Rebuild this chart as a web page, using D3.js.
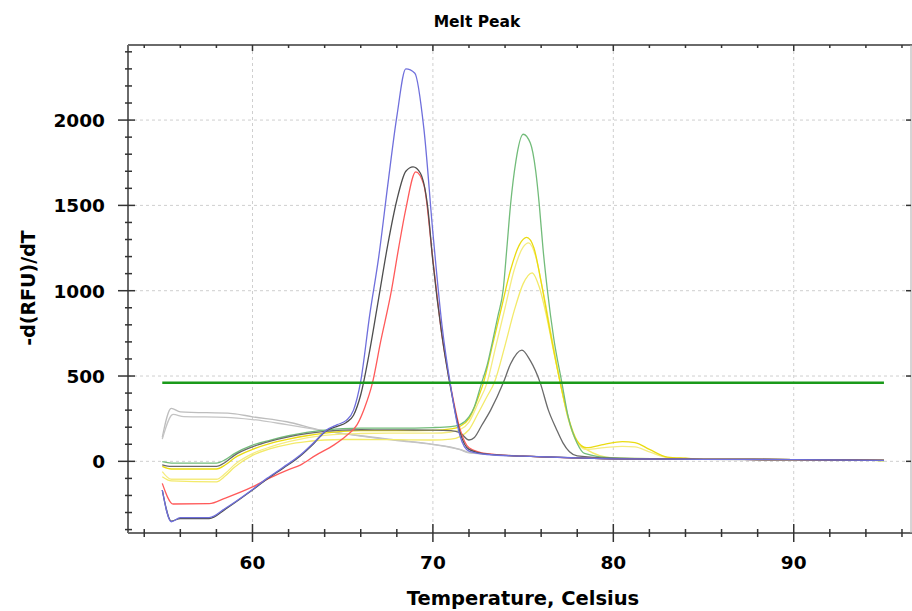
<!DOCTYPE html>
<html>
<head>
<meta charset="utf-8">
<script src="https://cdn.jsdelivr.net/npm/d3@7"></script>
<style>
  html, body { margin: 0; padding: 0; background: #fff; }
  svg text { font-family: "DejaVu Sans", sans-serif; font-weight: bold; fill: #000; }
</style>
</head>
<body>
<div id="chart"></div>
<script>
// Melt peak curves: [temperature (C), -d(RFU)/dT]
const blueCurve = [[55,-168],[55.5,-354],[56,-330],[57.6,-330],[58.5,-275],[60,-165],[60.8,-100],[61.7,-35],[62.65,37],[63.4,110],[64.1,183],[64.7,215],[65.2,240],[65.6,300],[66,470],[66.5,860],[67,1200],[67.5,1620],[68,2020],[68.5,2300],[69,2275],[69.5,1950],[70,1340],[70.5,800],[71,430],[71.5,150],[72,60],[73,40],[75,30],[78,20],[80,15],[85,12],[90,10],[95,6]];
const blackCurve = [[55,-168],[55.5,-350],[56,-335],[57.6,-335],[58.5,-280],[60,-168],[60.8,-105],[61.7,-40],[62.65,32],[63.4,105],[64.1,180],[64.7,205],[65.2,228],[65.6,270],[66,390],[66.5,650],[67,960],[67.5,1270],[68,1530],[68.5,1700],[68.9,1726],[69.3,1690],[69.7,1500],[70,1170],[70.5,740],[71,420],[71.5,170],[72,70],[73,42],[75,30],[78,20],[80,15],[85,12],[90,10],[95,6]];
const redCurve = [[55,-129],[55.6,-250],[57.6,-248],[58.5,-215],[60,-150],[61,-95],[62,-48],[62.65,-22],[63.5,35],[64.5,95],[65.2,150],[65.8,215],[66.2,310],[66.65,460],[67.1,700],[67.7,1000],[68.1,1250],[68.5,1480],[69.05,1697],[69.5,1620],[70,1180],[70.5,740],[71,430],[71.5,190],[72,80],[73,45],[75,30],[78,20],[80,15],[85,12],[90,10],[95,6]];
const greenCurve = [[55,-2],[55.5,-10],[58,-10],[58.5,10],[59,45],[60,95],[61,125],[62,150],[63,170],[64,183],[65,192],[66,195],[68,195],[70,198],[71,203],[71.5,215],[72,260],[72.3,320],[72.7,460],[73,560],[73.3,700],[73.6,850],[73.9,1010],[74.1,1250],[74.3,1500],[74.6,1760],[75,1917],[75.4,1865],[75.7,1700],[75.9,1500],[76.1,1250],[76.35,1000],[76.7,720],[77.15,460],[77.5,260],[78,105],[78.4,47],[80,20],[85,12],[90,10],[95,5]];
const yellowCurve1 = [[55,-30],[55.5,-45],[58,-45],[58.5,-20],[59,20],[60,70],[61,105],[62,130],[63,150],[64,165],[65,175],[66,180],[68,180],[70,182],[71,190],[71.5,205],[72,250],[72.5,370],[72.8,460],[73.3,680],[73.8,900],[74.3,1120],[74.8,1270],[75.2,1312],[75.6,1250],[76,1050],[76.5,760],[77.06,460],[77.5,260],[78,120],[78.5,80],[79.5,100],[80.5,115],[81.2,110],[82,70],[83,25],[84,18],[85,12],[90,10],[95,5]];
const yellowCurve2 = [[55,-60],[55.5,-105],[58,-105],[58.5,-70],[59,-20],[60,45],[61,85],[62,115],[63,138],[64,152],[65,160],[66,163],[68,165],[70,165],[71,172],[71.5,185],[72,230],[72.5,340],[73,460],[73.5,680],[74,900],[74.5,1120],[75,1255],[75.3,1280],[75.7,1200],[76.1,1000],[76.6,720],[77.06,460],[77.5,250],[78,110],[78.5,70],[79.5,80],[80.5,88],[81.2,85],[82,55],[83,22],[84,18],[85,12],[90,10],[95,5]];
const yellowCurve3 = [[55,-90],[55.5,-115],[58,-120],[58.5,-85],[59,-35],[60,35],[61,75],[62,100],[63,115],[64,125],[65,128],[66,128],[68,127],[70,125],[71,130],[71.5,145],[72,185],[72.5,280],[73,380],[73.4,460],[74,680],[74.5,880],[75,1040],[75.5,1105],[75.9,1020],[76.3,850],[76.7,640],[77.06,460],[77.5,250],[78,110],[78.5,70],[80,20],[85,12],[90,10],[95,5]];
const darkGrayCurve = [[55,-20],[55.5,-30],[58,-30],[58.5,-5],[59,35],[60,85],[61,118],[62,143],[63,162],[64,176],[65,183],[66,185],[68,184],[70,183],[71,180],[71.5,168],[72,125],[72.3,140],[72.7,210],[73.2,300],[73.9,460],[74.3,570],[74.93,652],[75.4,590],[75.95,460],[76.4,300],[76.84,190],[77.2,110],[77.57,56],[78,32],[80,18],[85,12],[90,10],[95,6]];
const lightGrayCurve1 = [[55,141],[55.5,310],[56,290],[58.9,280],[60,261],[61.9,232],[63.75,183],[66,150],[68,125],[70,100],[71.5,70],[72,52],[73,42],[75,30],[78,20],[80,15],[85,12],[90,10],[95,6]];
const lightGrayCurve2 = [[55,130],[55.6,275],[56.2,262],[58.5,258],[60,245],[61.9,215],[63.75,183],[66,148],[68,122],[70,98],[71.5,68],[72,50],[73,42],[75,30],[78,20],[80,15],[85,12],[90,10],[95,6]];

const thresholdValue = 460;
const thresholdRange = [55, 95];

const xTickValues = [60, 70, 80, 90];
const yTickValues = [0, 500, 1000, 1500, 2000];

const seriesList = [
  { data: lightGrayCurve1, color: "#bdbdbd" },
  { data: lightGrayCurve2, color: "#c4c4c4" },
  { data: yellowCurve3, color: "#f3ea6a" },
  { data: yellowCurve2, color: "#f5ec80" },
  { data: yellowCurve1, color: "#eadb10" },
  { data: greenCurve, color: "#72bc7a" },
  { data: darkGrayCurve, color: "#6a6a6a" },
  { data: redCurve, color: "#ff5a5a" },
  { data: blackCurve, color: "#4e4e4e" },
  { data: blueCurve, color: "#6f6fdc" }
];

const width = 912, height = 611;
const plotLeft = 128, plotRight = 911, plotTop = 45, plotBottom = 533;

const svg = d3.select("#chart").append("svg")
  .attr("width", width)
  .attr("height", height);

const x = d3.scaleLinear().domain([53.1, 96.5]).range([plotLeft, plotRight]);
const y = d3.scaleLinear().domain([-420, 2440]).range([plotBottom, plotTop]);

// grid
const grid = svg.append("g").attr("stroke", "#cfcfcf").attr("stroke-width", 1).attr("stroke-dasharray", "3,3");
grid.selectAll("line.gx").data(xTickValues).join("line")
  .attr("x1", d => x(d)).attr("x2", d => x(d))
  .attr("y1", plotTop).attr("y2", plotBottom);
grid.selectAll("line.gy").data(yTickValues).join("line")
  .attr("x1", plotLeft).attr("x2", plotRight)
  .attr("y1", d => y(d)).attr("y2", d => y(d));

// frame
const frame = svg.append("g").attr("stroke", "#6a6a6a").attr("stroke-width", 2);
frame.append("line").attr("x1", plotLeft).attr("x2", plotLeft).attr("y1", plotTop).attr("y2", plotBottom);
frame.append("line").attr("x1", plotLeft).attr("x2", width).attr("y1", plotBottom).attr("y2", plotBottom);
frame.append("line").attr("x1", plotLeft).attr("x2", width).attr("y1", plotTop).attr("y2", plotTop);
frame.append("line").attr("x1", plotRight).attr("x2", plotRight).attr("y1", plotTop).attr("y2", plotBottom).attr("stroke-width", 1).attr("stroke", "#aaa");

// ticks
const minorX = d3.range(54, 97, 2);
const minorY = d3.range(-400, 2401, 100);
const ticks = svg.append("g").attr("stroke", "#333").attr("stroke-width", 1.5);
ticks.selectAll("line.tx").data(minorX).join("line")
  .attr("x1", d => x(d)).attr("x2", d => x(d))
  .attr("y1", d => plotBottom - (d % 10 === 0 ? 9 : 4))
  .attr("y2", d => plotBottom + (d % 10 === 0 ? 9 : 4));
ticks.selectAll("line.ttx").data(minorX).join("line")
  .attr("x1", d => x(d)).attr("x2", d => x(d))
  .attr("y1", plotTop).attr("y2", d => plotTop + (d % 10 === 0 ? 6 : 3));
ticks.selectAll("line.ty").data(minorY).join("line")
  .attr("x1", d => plotLeft - (d % 500 === 0 ? 10 : 3))
  .attr("x2", d => plotLeft + (d % 500 === 0 ? 7 : 4))
  .attr("y1", d => y(d)).attr("y2", d => y(d));
ticks.selectAll("line.tyr").data(yTickValues).join("line")
  .attr("x1", plotRight - 5).attr("x2", plotRight)
  .attr("y1", d => y(d)).attr("y2", d => y(d));

// tick labels
svg.append("g").selectAll("text").data(xTickValues).join("text")
  .attr("x", d => x(d)).attr("y", 569)
  .attr("text-anchor", "middle")
  .style("font-size", "18.5px")
  .text(d => d);
svg.append("g").selectAll("text").data(yTickValues).join("text")
  .attr("x", 105).attr("y", d => y(d) + 7)
  .attr("text-anchor", "end")
  .style("font-size", "18.5px")
  .text(d => d);

// curves
const line = d3.line().curve(d3.curveMonotoneX).x(d => x(d[0])).y(d => y(d[1]));
svg.append("g").attr("fill", "none")
  .selectAll("path").data(seriesList).join("path")
  .attr("d", d => line(d.data))
  .attr("stroke", d => d.color)
  .attr("stroke-width", 1.3)
  .attr("stroke-linejoin", "round");

// threshold
svg.append("line")
  .attr("x1", x(thresholdRange[0])).attr("x2", x(thresholdRange[1]))
  .attr("y1", y(thresholdValue)).attr("y2", y(thresholdValue))
  .attr("stroke", "#1a9a1a").attr("stroke-width", 2.5);

// titles
svg.append("text").attr("x", 477).attr("y", 27)
  .attr("text-anchor", "middle").style("font-size", "15.5px").text("Melt Peak");
svg.append("text").attr("x", 523).attr("y", 605)
  .attr("text-anchor", "middle").style("font-size", "19.5px").text("Temperature, Celsius");
svg.append("text")
  .attr("transform", "translate(35,288) rotate(-90)")
  .attr("text-anchor", "middle").style("font-size", "19px").text("-d(RFU)/dT");
</script>
</body>
</html>
